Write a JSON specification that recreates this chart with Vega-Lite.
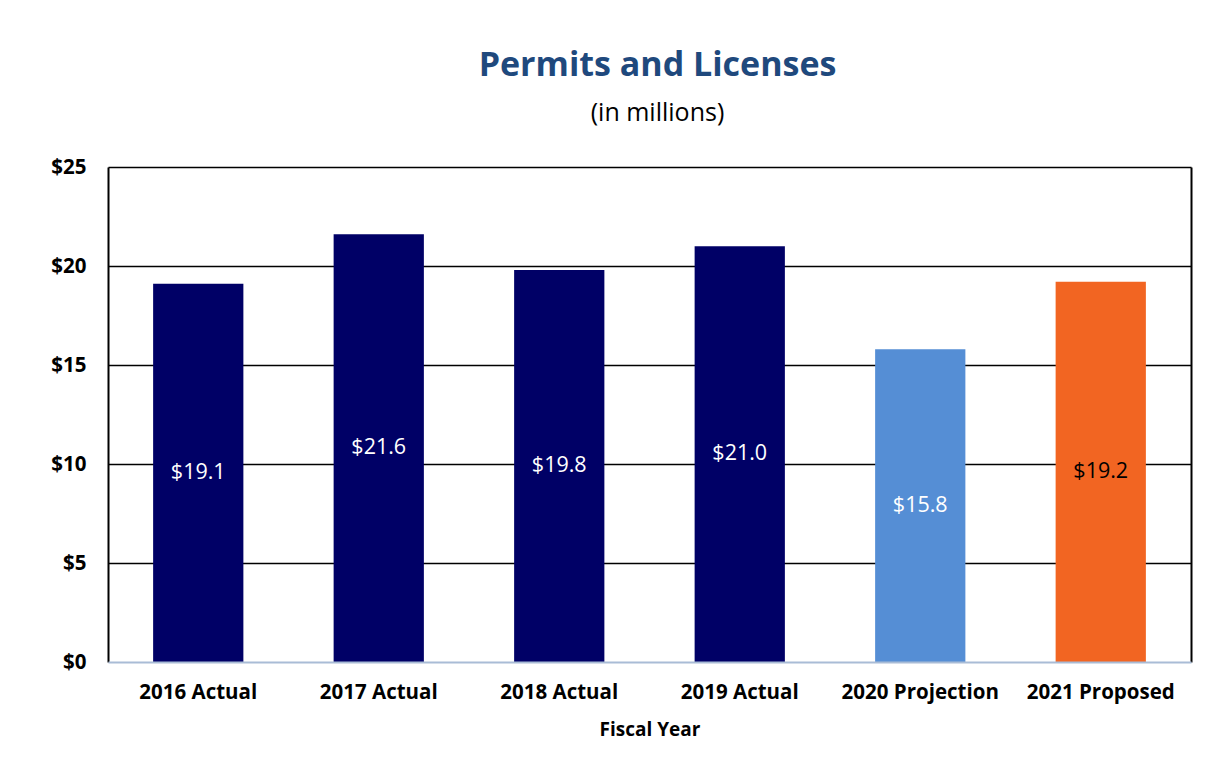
{
  "$schema": "https://vega.github.io/schema/vega-lite/v6.json",
  "autosize": "none",
  "width": 1083,
  "height": 495,
  "padding": {"left": 108, "top": 167, "right": 23, "bottom": 108},
  "background": "white",
  "config": {
    "font": "Open Sans",
    "view": {"stroke": null}
  },
  "title": {
    "text": "Permits and Licenses",
    "subtitle": "(in millions)",
    "anchor": "middle",
    "frame": "group",
    "font": "Open Sans",
    "fontSize": 34,
    "fontWeight": "bold",
    "color": "#1F497D",
    "subtitleFont": "Open Sans",
    "subtitleFontSize": 25,
    "subtitleColor": "#000000",
    "subtitlePadding": 18,
    "offset": 31,
    "dx": 8
  },
  "data": {
    "values": [
      {"year": "2016 Actual", "value": 19.1, "type": "Actual"},
      {"year": "2017 Actual", "value": 21.6, "type": "Actual"},
      {"year": "2018 Actual", "value": 19.8, "type": "Actual"},
      {"year": "2019 Actual", "value": 21.0, "type": "Actual"},
      {"year": "2020 Projection", "value": 15.8, "type": "Projection"},
      {"year": "2021 Proposed", "value": 19.2, "type": "Proposed"}
    ]
  },
  "encoding": {
    "x": {
      "field": "year",
      "type": "nominal",
      "sort": null,
      "scale": {"paddingInner": 0.5, "paddingOuter": 0.25},
      "axis": {
        "title": "Fiscal Year",
        "labelAngle": 0,
        "labelFont": "Open Sans",
        "labelFontSize": 20.5,
        "labelFontWeight": "bold",
        "labelColor": "#000000",
        "labelPadding": 20,
        "ticks": false,
        "domainColor": "#A9BCD6",
        "domainWidth": 2,
        "titleFont": "Open Sans",
        "titleFontSize": 19,
        "titleFontWeight": "bold",
        "titleColor": "#000000",
        "titlePadding": 18,
        "zindex": 1
      }
    }
  },
  "layer": [
    {
      "mark": {"type": "bar"},
      "encoding": {
        "y": {
          "field": "value",
          "type": "quantitative",
          "scale": {"domain": [0, 25]},
          "axis": {
            "title": null,
            "values": [0, 5, 10, 15, 20, 25],
            "labelExpr": "'$' + datum.value",
            "labelFont": "Open Sans",
            "labelFontSize": 20.5,
            "labelFontWeight": "bold",
            "labelColor": "#000000",
            "labelPadding": 22,
            "ticks": false,
            "domainColor": "#000000",
            "domainWidth": 2,
            "grid": true,
            "gridColor": "#000000",
            "gridWidth": 1.6,
            "gridOpacity": {"condition": {"test": "datum.value === 0", "value": 0}, "value": 1}
          }
        },
        "color": {
          "field": "type",
          "type": "nominal",
          "scale": {"domain": ["Actual", "Projection", "Proposed"], "range": ["#000066", "#558ED5", "#F26522"]},
          "legend": null
        }
      }
    },
    {
      "mark": {
        "type": "text",
        "font": "Open Sans",
        "fontSize": 21.5,
        "baseline": "middle",
        "align": "center",
        "dy": {"expr": "(scale('y', 0) - scale('y', datum.value)) / 2"}
      },
      "encoding": {
        "y": {
          "field": "value",
          "type": "quantitative",
          "scale": {"domain": [0, 25]},
          "axis": {
            "orient": "right",
            "title": null,
            "labels": false,
            "ticks": false,
            "grid": false,
            "domainColor": "#000000",
            "domainWidth": 2
          }
        },
        "text": {"field": "value", "type": "quantitative", "format": "$.1f"},
        "color": {
          "condition": {"test": "datum.type === 'Proposed'", "value": "#000000"},
          "value": "#FFFFFF"
        }
      }
    }
  ],
  "resolve": {"axis": {"y": "independent"}}
}
